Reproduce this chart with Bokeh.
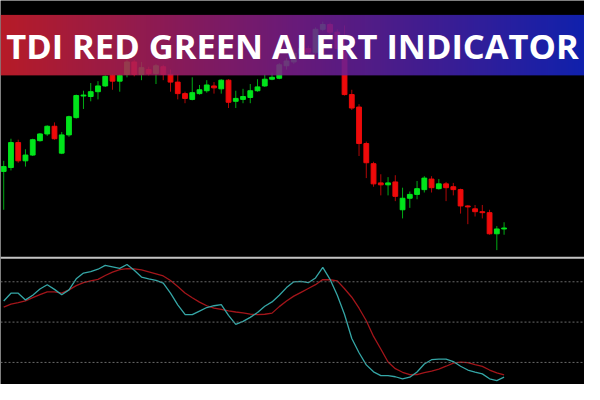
import numpy as np
from bokeh.plotting import figure
from bokeh.models import Range1d, ColumnDataSource, Span, Label
from bokeh.embed import file_html
from bokeh.resources import INLINE

# ---- candle data (price points) ----
open_ = [122, 126, 152, 133, 139, 154, 161, 169, 141, 160,
         178, 200.5, 200, 205, 211, 222, 216, 223, 236, 223,
         228, 224, 231, 223, 215, 203, 197, 203, 206, 211,
         208, 217, 195, 197, 199, 206, 211, 218, 219, 232,
         236, 245, 250, 246, 270, 275, 267, 248, 202, 189,
         151, 130, 110, 108, 111, 82, 94, 98, 103, 114,
         104, 109, 106, 103, 86, 83, 80, 79, 57, 62]
high = [133, 156, 155, 145, 156, 162, 170, 173, 163, 180,
        202, 206, 214, 216, 222, 223, 223, 238, 238, 236,
        231, 234, 233, 228, 223, 205, 220, 212, 217, 215,
        218, 218, 206, 208, 213, 218, 223, 225, 235, 240,
        250, 254, 253, 272, 278, 277, 270, 274, 207, 192,
        153, 132, 119, 116, 118, 105, 101, 112, 117, 117,
        114, 111, 110, 104, 87, 87, 87, 82, 65, 69]
low = [82, 123, 131, 127, 138, 153, 159, 155, 140, 158,
       177, 187, 195, 197, 210, 207, 205, 220, 221, 217,
       222, 213, 217, 205, 197, 193, 196, 202, 204, 203,
       203, 188, 188, 193, 193, 205, 210, 217, 218, 228,
       234, 242, 243, 244, 268, 264, 248, 201, 186, 138,
       115, 106, 97, 97, 91, 73, 84, 93, 100, 100,
       103, 91, 97, 78, 67, 75, 73, 56, 40, 56]
close = [127, 152, 133, 139, 155, 161, 169, 156, 160, 179,
         201, 201.5, 205, 211, 221, 216, 222, 236, 223, 230,
         224, 232, 223, 215, 203, 198, 204, 207, 212, 209,
         217, 194, 198, 200, 206, 210, 218, 220, 233, 237,
         245, 250, 246, 270, 275, 267, 250, 202, 188, 151,
         131, 109, 108, 110, 96, 94, 98, 104, 115, 105,
         109, 105, 103, 86, 85, 80, 79, 57, 62, 63]

# ---- TDI indicator ----
tdi_price_line = [59.4, 62.9, 62.9, 59.9, 62.0, 64.8, 66.7, 64.6, 62.2, 64.4,
                  69.3, 71.9, 72.5, 73.6, 75.3, 74.7, 74.0, 75.7, 73.1, 70.1,
                  69.3, 68.6, 67.4, 62.9, 57.7, 53.4, 53.3, 54.9, 56.5, 57.3,
                  57.8, 53.0, 49.0, 50.3, 52.1, 54.3, 57.1, 59.0, 62.0, 65.4,
                  68.0, 68.2, 67.6, 69.7, 74.4, 69.1, 62.0, 53.4, 42.7, 36.3,
                  30.9, 27.8, 26.1, 26.1, 25.6, 24.6, 25.4, 27.7, 31.3, 33.2,
                  33.5, 33.5, 32.4, 30.3, 28.6, 27.7, 26.9, 24.7, 23.9, 25.4]
tdi_signal_line = [56.7, 58.0, 58.7, 59.5, 60.9, 62.3, 63.5, 63.5, 62.9, 64.4,
                   66.3, 67.6, 68.4, 69.1, 70.8, 72.3, 73.4, 73.9, 73.8, 73.3,
                   72.4, 71.5, 70.6, 68.6, 65.9, 63.0, 60.9, 58.9, 57.3, 56.2,
                   55.7, 55.0, 54.5, 54.1, 53.6, 53.3, 53.5, 54.0, 56.9, 59.4,
                   61.6, 63.3, 65.0, 66.7, 69.0, 68.9, 68.4, 64.9, 61.1, 56.2,
                   50.6, 43.6, 38.0, 32.2, 29.2, 27.6, 26.5, 26.6, 27.4, 28.1,
                   29.0, 30.3, 31.7, 32.1, 31.9, 31.0, 30.2, 28.6, 27.3, 26.4]
tdi_levels = [68, 50, 32]
separator_level = 32  # price-panel bottom edge
title_text = "TDI RED GREEN ALERT INDICATOR"

idx = list(range(len(open_)))
up = [c >= o for o, c in zip(open_, close)]
GREEN = "#00e41b"
RED = "#ee0a0a"
colors = [GREEN if u else RED for u in up]

src = ColumnDataSource(dict(
    x=idx, high=high, low=low,
    top=[max(o, c) for o, c in zip(open_, close)],
    bottom=[min(o, c) for o, c in zip(open_, close)],
    color=colors,
))

x0, x1 = -0.443, 80.09
p = figure(width=584, height=384,
           x_range=Range1d(x0, x1), y_range=Range1d(-100, 300),
           x_axis_type=None, y_axis_type=None,
           output_backend="svg", toolbar_location=None,
           background_fill_color="black", border_fill_color="black",
           outline_line_color=None, min_border=0)
p.grid.visible = False
p.extra_y_ranges = {"tdi": Range1d(22.14, 193.57)}

# candles
p.segment(x0="x", y0="high", x1="x", y1="low", source=src,
          line_color="color", line_width=1, line_alpha=0.75)
p.vbar(x="x", width=0.66, top="top", bottom="bottom", source=src,
       fill_color="color", line_color="color", line_width=1)

# separator between panels
p.add_layout(Span(location=separator_level, dimension="width",
                  line_color="#c4c4c4", line_width=2))

# TDI levels
for lv in tdi_levels:
    p.add_layout(Span(location=lv, dimension="width", y_range_name="tdi",
                      line_color="#6a6a6a", line_width=1, line_dash="2 2"))

p.line(idx, tdi_signal_line, y_range_name="tdi",
       line_color="#a3151a", line_width=1.3)
p.line(idx, tdi_price_line, y_range_name="tdi",
       line_color="#35a6a6", line_width=1.3)

# title banner with gradient (red -> purple -> blue), semi-transparent
ncol = 300
stops = np.array([[212, 32, 46], [122, 30, 140], [19, 38, 200]], dtype=float)
t = np.linspace(0, 1, ncol)
rgb = np.zeros((ncol, 3))
for k in range(3):
    rgb[:, k] = np.interp(t, [0, 0.5, 1], stops[:, k])
img = np.zeros((1, ncol, 4), dtype=np.uint8)
img[0, :, :3] = rgb.astype(np.uint8)
img[0, :, 3] = 220
img32 = img.view(np.uint32).reshape(1, ncol)
p.image_rgba(image=[img32], x=x0, y=222, dw=x1 - x0, dh=63)

p.add_layout(Label(x=292, y=339, x_units="screen", y_units="screen",
                   text=title_text, text_color="white",
                   text_font="Open Sans", text_font_style="bold",
                   text_font_size="34.5px", text_align="center",
                   text_baseline="middle"))

open("out.html", "w").write(file_html(p, INLINE))
